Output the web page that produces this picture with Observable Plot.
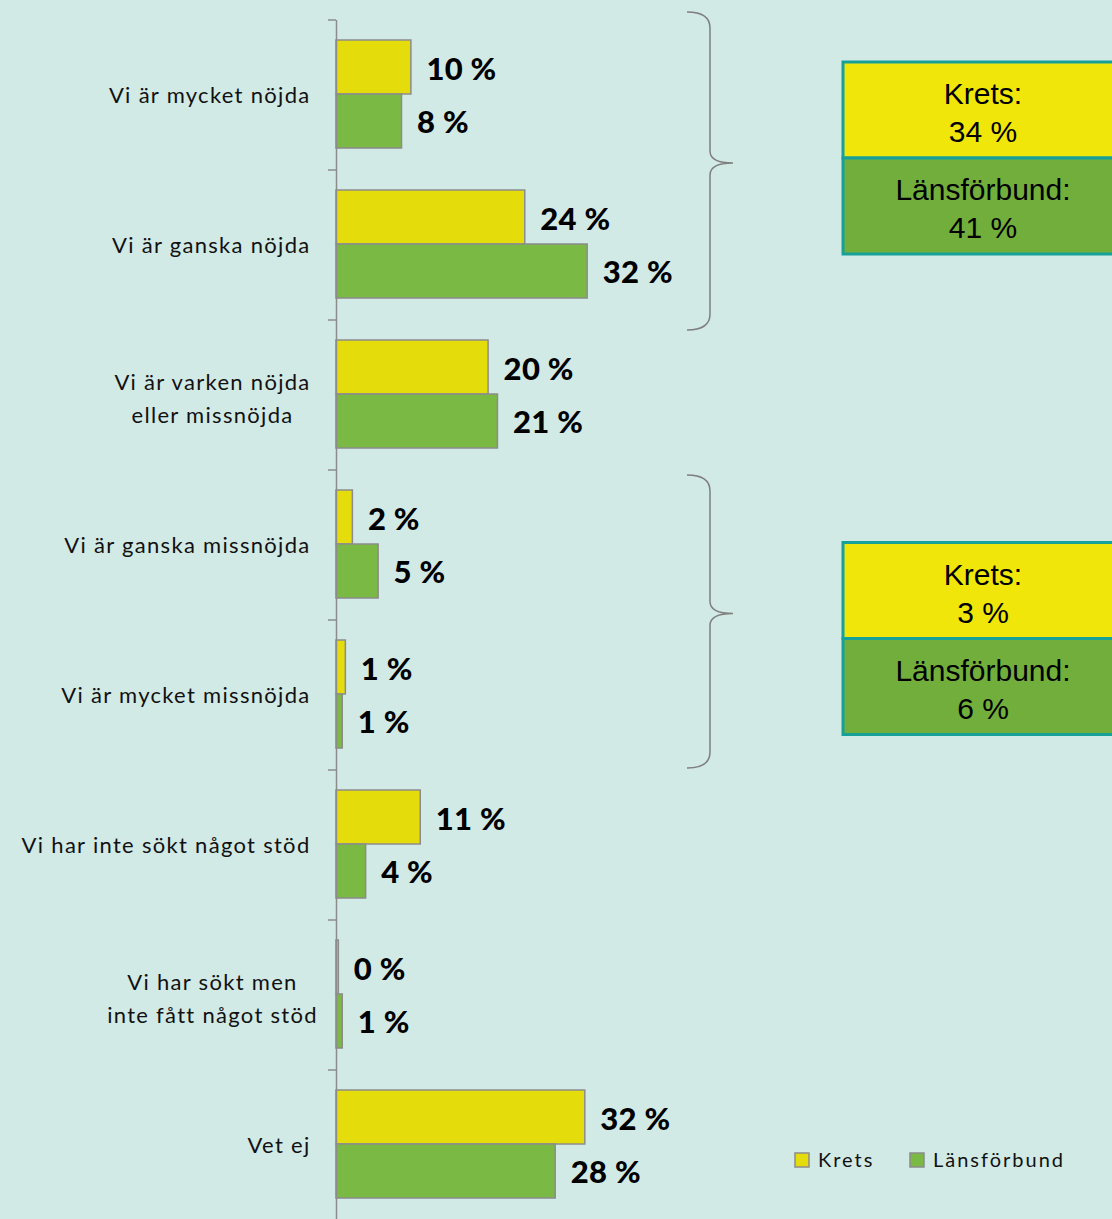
<!DOCTYPE html>
<html><head><meta charset="utf-8">
<script src="https://cdn.jsdelivr.net/npm/d3@7"></script>
<script src="https://cdn.jsdelivr.net/npm/@observablehq/plot@0.6"></script>
<style>
html,body{margin:0;padding:0;background:#d2eae6;}
#chart{width:1112px;height:1219px;overflow:hidden;}
svg{display:block;}
.cat text{letter-spacing:1.3px;}
.lbl text{letter-spacing:0.3px;}
</style></head><body><div id="chart"></div>
<script>
const categories = [
  "Vi är mycket nöjda",
  "Vi är ganska nöjda",
  "Vi är varken nöjda\neller missnöjda",
  "Vi är ganska missnöjda",
  "Vi är mycket missnöjda",
  "Vi har inte sökt något stöd",
  "Vi har sökt men\ninte fått något stöd",
  "Vet ej"
];
const seriesNames = ["Krets", "Länsförbund"];
const kretsValues = [9.6, 24.2, 19.5, 2.1, 1.2, 10.8, 0.3, 31.9];
const lansValues  = [8.4, 32.2, 20.7, 5.4, 0.8, 3.8, 0.8, 28.1];
const summaryGroups = [[0, 1], [3, 4]];
const summaryKrets = [34, 3];
const summaryLans = [41, 6];

const barColors = ["#e5dc0c", "#7ab944"];
const boxColors = ["#f0e60a", "#72ae3c"];

const rows = categories.flatMap((c, i) => [
  {category: c, series: seriesNames[0], value: kretsValues[i]},
  {category: c, series: seriesNames[1], value: lansValues[i]}
]);
const kRows = rows.filter(d => d.series === seriesNames[0]);
const lRows = rows.filter(d => d.series === seriesNames[1]);
const singleCats = categories.filter(c => !c.includes("\n"));
const multiCats = categories.filter(c => c.includes("\n"));

// layout tweaks for annotations (pixels)
const braceAdjust = [[-8, 10], [5, -2]];
const boxOffset = [-5, 25];

function annotations(index, scales, values, dimensions) {
  let y = scales.y;
  if (!y || !y.bandwidth) y = d3.scaleBand(categories, [20, 1220]).padding(0);
  const bw = y.bandwidth();
  const ml = dimensions.marginLeft;
  const g = d3.create("svg:g").attr("text-anchor", "start");
  // band boundary ticks
  categories.forEach(c => {
    const t = y(c);
    g.append("line").attr("x1", ml - 8).attr("x2", ml).attr("y1", t).attr("y2", t)
      .attr("stroke", "#8c8c8c").attr("stroke-width", 1.5);
  });
  summaryGroups.forEach(([a, b], gi) => {
    const top = y(categories[a]) + braceAdjust[gi][0];
    const bot = y(categories[b]) + bw + braceAdjust[gi][1];
    const tip = (top + bot) / 2 - 8;
    const bx = 710, x0 = 687, tx = 733;
    const p = `M${x0},${top} Q${bx},${top} ${bx},${top + 16} L${bx},${tip - 12} Q${bx},${tip} ${tx},${tip} Q${bx},${tip} ${bx},${tip + 12} L${bx},${bot - 16} Q${bx},${bot} ${x0},${bot}`;
    g.append("path").attr("d", p).attr("fill", "none").attr("stroke", "#7f7f7f").attr("stroke-width", 1.5);
    const cy = tip + boxOffset[gi];
    const bx0 = 843, bwid = 280, bh = 96;
    const items = [["Krets:", summaryKrets[gi]], ["Länsförbund:", summaryLans[gi]]];
    items.forEach(([name, v], k) => {
      const ty = cy - bh + k * bh;
      g.append("rect").attr("x", bx0).attr("y", ty).attr("width", bwid).attr("height", bh)
        .attr("fill", boxColors[k]).attr("stroke", "#17a097").attr("stroke-width", 3);
      const t = g.append("text").attr("x", bx0 + 140).attr("text-anchor", "middle")
        .attr("font-family", "'Liberation Sans', Arial, sans-serif").attr("font-size", 30).attr("fill", "#000");
      t.append("tspan").attr("x", bx0 + 140).attr("y", ty + 42).text(name);
      t.append("tspan").attr("x", bx0 + 140).attr("y", ty + 80).text(`${v} %`);
    });
  });
  // legend
  const lg = g.append("g").attr("font-family", "Lato, sans-serif").attr("font-size", 20).attr("fill", "#111")
    .attr("text-anchor", "start").style("letter-spacing", "2px");
  const lx = [795, 910];
  seriesNames.forEach((s, k) => {
    lg.append("rect").attr("x", lx[k]).attr("y", 1153).attr("width", 14).attr("height", 14)
      .attr("fill", barColors[k]).attr("stroke", "#8c8c8c").attr("stroke-width", 1.5);
    lg.append("text").attr("x", lx[k] + 23).attr("y", 1167).attr("text-anchor", "start").text(s);
  });
  return g.node();
}

const chart = Plot.plot({
  width: 1112,
  height: 1219,
  marginLeft: 336,
  marginTop: 20,
  marginBottom: 0,
  marginRight: 0,
  style: {background: "transparent", fontFamily: "Lato, sans-serif", overflow: "visible"},
  x: {domain: [0, 100], range: [336, 1116], axis: null},
  y: {domain: categories, range: [20, 1220], padding: 0, axis: null},
  color: {domain: seriesNames, range: barColors},
  marks: [
    Plot.barX(kRows, {y: "category", x: "value", fill: "series", stroke: "#8c8c8c", strokeWidth: 1.5, insetTop: 20, insetBottom: 76}),
    Plot.barX(lRows, {y: "category", x: "value", fill: "series", stroke: "#8c8c8c", strokeWidth: 1.5, insetTop: 74, insetBottom: 22}),
    Plot.ruleX([0], {stroke: "#8c8c8c", strokeWidth: 1.5}),
    Plot.text(kRows, {y: "category", x: "value", text: d => `${Math.round(d.value)} %`, textAnchor: "start", dx: 15, dy: -25, fontSize: 31, fontWeight: 900, fill: "#000", className: "lbl"}),
    Plot.text(lRows, {y: "category", x: "value", text: d => `${Math.round(d.value)} %`, textAnchor: "start", dx: 15, dy: 28, fontSize: 31, fontWeight: 900, fill: "#000", className: "lbl"}),
    Plot.text(singleCats, {y: d => d, frameAnchor: "left", textAnchor: "end", dx: -26, fontSize: 22, fill: "#111", className: "cat"}),
    Plot.text(multiCats, {y: d => d, frameAnchor: "left", textAnchor: "middle", dx: -124, fontSize: 22, lineHeight: 1.5, fill: "#111", className: "cat"}),
    annotations
  ]
});
document.getElementById("chart").appendChild(chart);
</script>
</body></html>
